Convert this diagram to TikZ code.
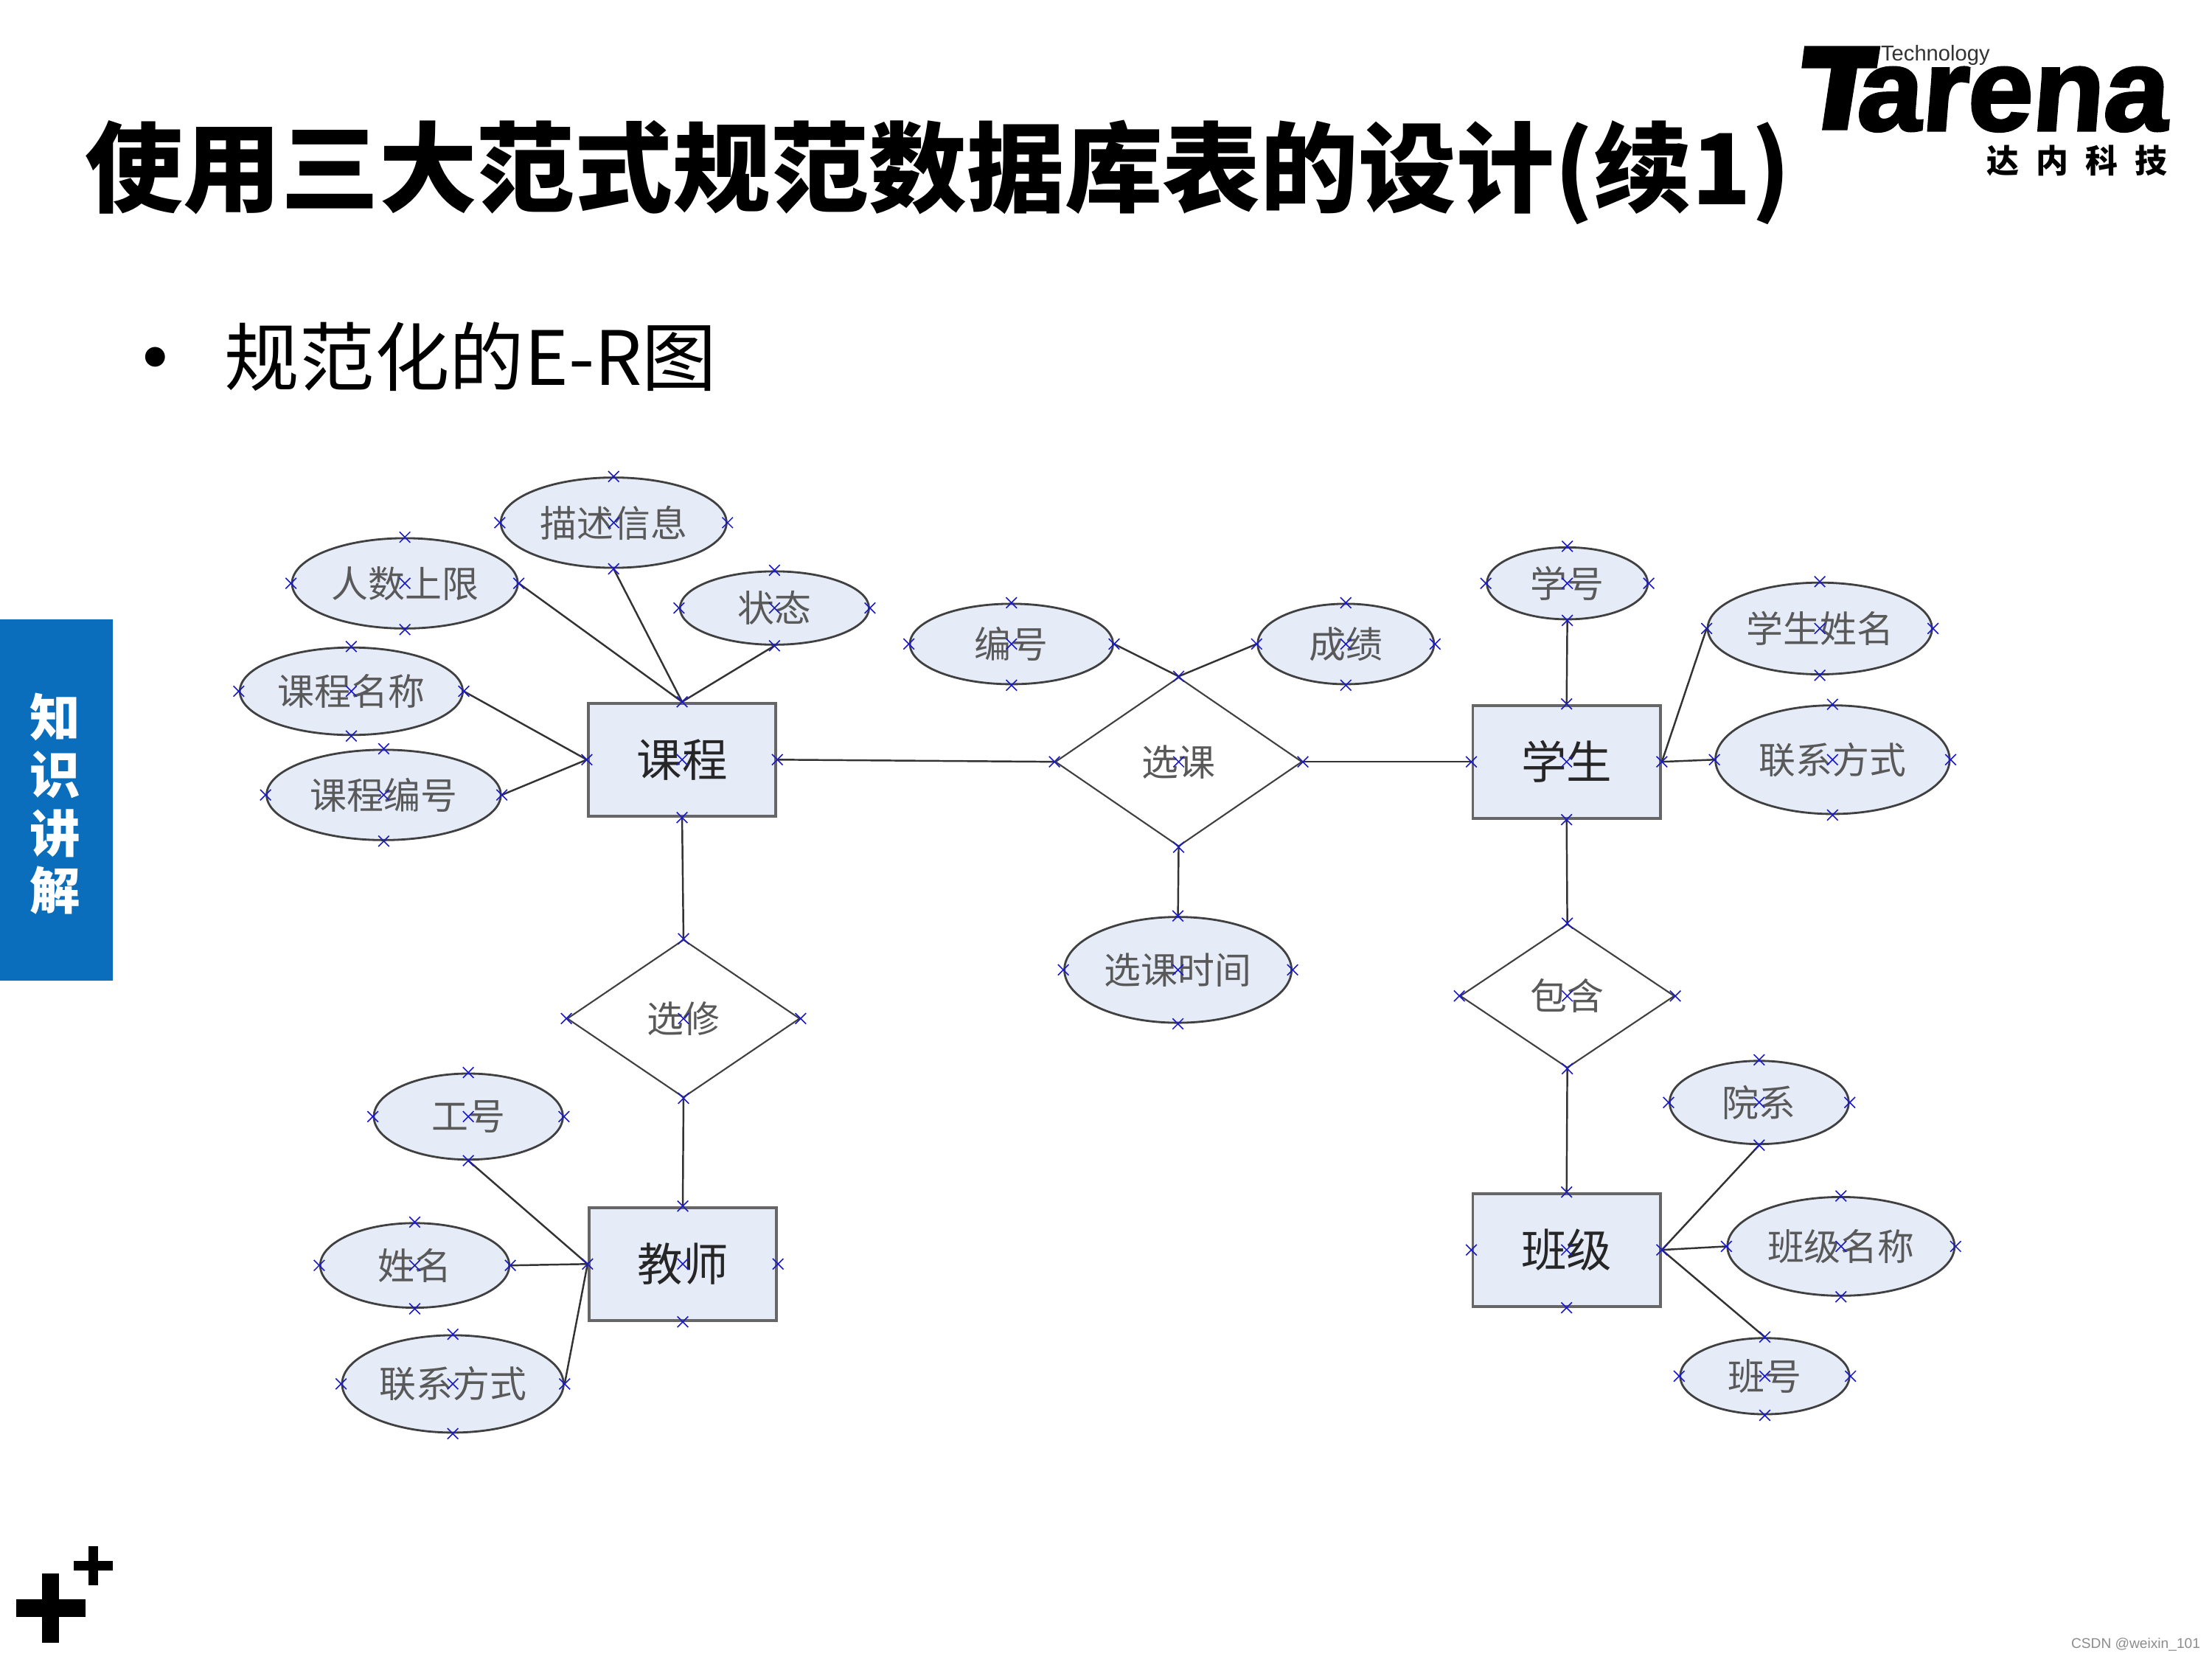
\documentclass[tikz,border=0pt]{standalone}
\usepackage{fontspec}
\setmainfont{Noto Sans CJK SC}
\newfontfamily\logofont[BoldFeatures={FakeBold=2.5,FakeSlant=0.08}]{Liberation Sans}
\newfontfamily\latinfont{Liberation Sans}
\usetikzlibrary{shapes.geometric, shapes.misc, positioning}
\definecolor{nodefill}{HTML}{E6ECF7}
\definecolor{tabblue}{HTML}{0A6EBD}
\definecolor{markblue}{HTML}{1A1AC8}
\newcommand{\fsize}[1]{\fontsize{#1}{#1}\selectfont}

\begin{document}
\begin{tikzpicture}[x=0.19133mm, y=-0.19133mm,
    attr/.style 2 args={ellipse, draw=black!75, fill=nodefill, line width=0.8pt, inner sep=0,
      minimum width=#1*0.19133mm, minimum height=#2*0.19133mm, text=black!65, font=\fsize{14.2}},
    ent/.style={rectangle, draw=black!60, fill=nodefill, line width=1.1pt, inner sep=0,
      minimum width=133*0.19133mm, minimum height=80*0.19133mm, text=black!85, font=\fsize{17.5}},
    rel/.style 2 args={diamond, draw=black!75, fill=white, line width=0.6pt, inner sep=0,
      minimum width=#1*0.19133mm, minimum height=#2*0.19133mm, text=black!65, font=\fsize{14.2}},
    link/.style={draw=black!80, line width=0.7pt},
    xmk/.style={cross out, draw=markblue, line width=0.45pt, inner sep=0, minimum size=0.13cm},
    bar/.style={fill=black, draw=none}]
  \useasboundingbox (0,0) rectangle (1568,1176);

  % slide furniture
  \node[anchor=west, inner sep=0, font=\fsize{37.8}\bfseries] (title) at (60,122) {使用三大范式规范数据库表的设计(续1)};
  \node[inner sep=0, font=\fsize{36}] (dot) at (110,262) {•};
  \node[anchor=west, inner sep=0, font=\fsize{28.9}] (sub) at (159,253) {规范化的E-R图};
  \fill[tabblue] (0,439) rectangle (80,695);
  \foreach \i/\y/\t in {1/508/知, 2/549/识, 3/591/讲, 4/631/解}
    \node[text=white, inner sep=0, font=\fsize{19.5}\bfseries] (tab\i) at (39,\y) {\t};

  % logo
  \fill[bar] (1279,32.6) -- (1333,32.6) -- (1330.5,48.4) -- (1316.5,48.4) -- (1309.5,92.3) -- (1291.5,92.3) -- (1298,48.4) -- (1277,48.4) -- cycle;
  \node[anchor=base west, inner sep=0, font=\logofont\fsize{45}\bfseries] (logo) at (1315,92.3) {arena};
  \node[anchor=west, inner sep=0, text=black!80, font=\latinfont\fsize{8.3}] (tech) at (1333,39) {Technology};
  \foreach \i/\x/\t in {1/1420/达, 2/1455/内, 3/1490/科, 4/1525/技}
    \node[inner sep=0, font=\fsize{12.5}\bfseries] (cn\i) at (\x,114) {\t};

  % plus signs
  \fill[bar] (11.5,1133.7) rectangle (60.6,1146.2);
  \fill[bar] (29.8,1115.4) rectangle (41.8,1164.5);
  \fill[bar] (52.3,1106.5) rectangle (80,1113.3);
  \fill[bar] (62.7,1096) rectangle (69.5,1123.7);
  \node[anchor=east, inner sep=0, text=black!45, font=\latinfont\fsize{5.45}] (csdn) at (1560,1166) {CSDN @weixin\_101};

  % attributes
  \foreach \n/\x/\y/\w/\h/\t in {
      ms/435/370.5/160/64/描述信息, rs/287/413.5/160/64/人数上限, zt/549/431/134/52/状态,
      mc/249/490/158/62/课程名称, bh/272/563.5/166/64/课程编号,
      kb/717/456.5/144/57/编号, cj/954/456.5/125/57/成绩, sj/835/687.5/161/75/选课时间,
      xh/1111/413.5/114/51/学号, xm/1290/445.5/159/65/学生姓名, lx/1299/538.5/166/77/联系方式,
      yx/1247/781.5/127/59/院系, bm/1305/883.5/161/70/班级名称, bn/1251/975.5/120/54/班号,
      gh/332/791.5/134/61/工号, tm/294/897/134/60/姓名, tl/321/981/157/69/联系方式}
    \node[attr={\w}{\h}] (\n) at (\x,\y) {\t};

  % entities
  \foreach \n/\x/\y/\t in {kc/483.5/538.5/课程, xs/1110.5/540/学生, bj/1110.5/886/班级, js/484/896/教师}
    \node[ent] (\n) at (\x,\y) {\t};

  % relations
  \foreach \n/\x/\y/\w/\h/\t in {xk/835.5/540/175/120/选课, bh2/1111/706/152/102/包含, xx/484.5/722/165/112/选修}
    \node[rel={\w}{\h}] (\n) at (\x,\y) {\t};

  % connectors
  \foreach \a/\b in {rs.east/kc.north, ms.south/kc.north, zt.south/kc.north, mc.east/kc.west, bh.east/kc.west,
      kc.east/xk.west, kb.east/xk.north, cj.west/xk.north, xk.east/xs.west, xk.south/sj.north,
      xh.south/xs.north, xm.west/xs.east, lx.west/xs.east, xs.south/bh2.north, bh2.south/bj.north,
      yx.south/bj.east, bm.west/bj.east, bn.north/bj.east, kc.south/xx.north, xx.south/js.north,
      gh.south/js.west, tm.east/js.west, tl.east/js.west}
    \draw[link] (\a) -- (\b);

  % anchor marks
  \foreach \n in {ms,rs,zt,mc,bh,kb,cj,sj,xh,xm,lx,yx,bm,bn,gh,tm,tl,kc,xs,bj,js,xk,bh2,xx}
    \foreach \a in {north,south,east,west,center}
      \node[xmk] (\n-\a) at (\n.\a) {};
\end{tikzpicture}
\end{document}
